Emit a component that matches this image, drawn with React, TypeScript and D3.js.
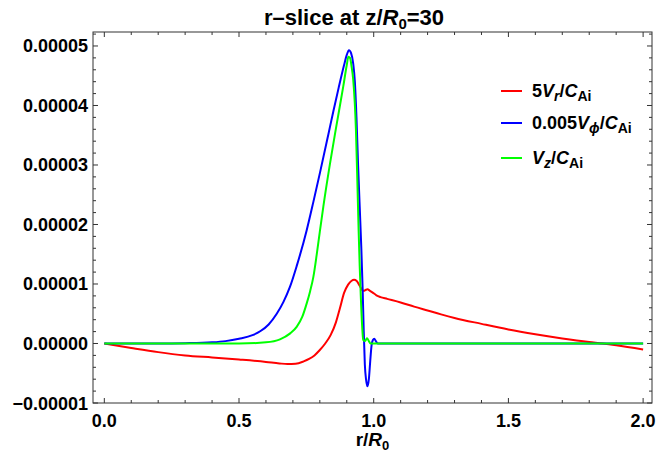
import React from "react";
import * as d3 from "d3";

// values in units of 1e-5
const vrData: [number, number][] = [
  [0, 0], [0.1, -0.075], [0.2, -0.145], [0.3, -0.2], [0.4, -0.235], [0.5, -0.27],
  [0.6, -0.31], [0.65, -0.335], [0.68, -0.345], [0.71, -0.34], [0.74, -0.3],
  [0.76, -0.26], [0.78, -0.2], [0.8, -0.11], [0.82, 0.0], [0.84, 0.14], [0.86, 0.36],
  [0.875, 0.6], [0.89, 0.85], [0.905, 0.99], [0.918, 1.055], [0.927, 1.07],
  [0.937, 1.05], [0.948, 0.97], [0.957, 0.9], [0.963, 0.885], [0.97, 0.9],
  [0.977, 0.91], [0.985, 0.89], [0.995, 0.86], [1.01, 0.81], [1.025, 0.78],
  [1.05, 0.75], [1.1, 0.69], [1.15, 0.62], [1.2, 0.555], [1.25, 0.49], [1.3, 0.43],
  [1.4, 0.33], [1.5, 0.235], [1.6, 0.155], [1.7, 0.085], [1.8, 0.025], [1.85, 0.0],
  [1.9, -0.03], [2.0, -0.1],
];

const vphiData: [number, number][] = [
  [0, 0], [0.2, 0], [0.3, 0.005], [0.4, 0.02], [0.45, 0.04], [0.5, 0.08], [0.55, 0.14],
  [0.58, 0.21], [0.61, 0.32], [0.64, 0.5], [0.665, 0.7], [0.689, 0.95], [0.714, 1.3],
  [0.751, 1.9], [0.776, 2.38], [0.801, 2.88], [0.83, 3.48], [0.85, 3.9], [0.87, 4.3],
  [0.89, 4.68], [0.9, 4.85], [0.908, 4.93], [0.916, 4.88], [0.924, 4.7], [0.93, 4.4],
  [0.936, 3.8], [0.942, 3.0], [0.948, 2.3], [0.954, 1.6], [0.959, 0.9], [0.963, 0.2],
  [0.967, -0.35], [0.972, -0.62], [0.977, -0.72], [0.982, -0.6], [0.987, -0.3],
  [0.992, -0.03], [0.997, 0.06], [1.002, 0.08], [1.008, 0.04], [1.015, 0], [2.0, 0],
];

const vzData: [number, number][] = [
  [0, 0], [0.5, 0], [0.6, 0.02], [0.652, 0.07], [0.69, 0.17], [0.714, 0.28],
  [0.735, 0.45], [0.751, 0.67], [0.764, 0.88], [0.776, 1.12], [0.788, 1.48],
  [0.8, 1.88], [0.813, 2.3], [0.838, 3.03], [0.86, 3.62], [0.887, 4.32], [0.9, 4.68],
  [0.906, 4.82], [0.912, 4.8], [0.918, 4.65], [0.924, 4.43], [0.934, 3.59],
  [0.94, 2.6], [0.944, 1.9], [0.948, 1.3], [0.952, 0.8], [0.957, 0.3], [0.961, 0.06],
  [0.968, 0.04], [0.975, 0.09], [0.982, 0.04], [0.988, 0], [2.0, 0],
];

const xTicks = [0, 0.5, 1.0, 1.5, 2.0];
const xTickLabels = ["0.0", "0.5", "1.0", "1.5", "2.0"];
const yTicks = [-1, 0, 1, 2, 3, 4, 5];
const yTickLabels = ["\u22120.00001", "0.00000", "0.00001", "0.00002", "0.00003", "0.00004", "0.00005"];

const UNIT = 1e-5;
const FONT = "'Liberation Sans', Arial, sans-serif";

export default function App() {
  const W = 658, H = 460;
  const left = 93, right = 652, top = 32, bottom = 403;
  const x = d3.scaleLinear().domain([-0.042, 2.033]).range([left, right]);
  const y = d3.scaleLinear().domain([-1e-5, 5.235e-5]).range([bottom, top]);
  const line = d3
    .line<[number, number]>()
    .x((d) => x(d[0]))
    .y((d) => y(d[1] * UNIT))
    .curve(d3.curveMonotoneX);

  const frame = "#333";
  const majorLen = 5, minorLen = 3;

  const xMinor: number[] = [];
  for (let i = -1; i <= 21; i++) {
    const v = i / 10;
    if (i % 5 !== 0 && v >= x.domain()[0] && v <= x.domain()[1]) xMinor.push(v);
  }
  const yMinor: number[] = [];
  for (let i = -5; i <= 27; i++) {
    const v = i * 2e-6;
    if (i % 5 !== 0 && v >= y.domain()[0] && v <= y.domain()[1]) yMinor.push(v);
  }

  const legend = [
    { color: "#ff0000", y: 91, key: "r" },
    { color: "#0000ff", y: 123, key: "phi" },
    { color: "#00ff00", y: 158, key: "z" },
  ];

  const sub = (t: string, italic: boolean) => (
    <tspan fontSize={14} dy={4} fontStyle={italic ? "italic" : "normal"}>{t}</tspan>
  );

  const legendText = (key: string) => {
    if (key === "r")
      return (
        <>
          <tspan>5</tspan>
          <tspan fontStyle="italic">V</tspan>
          {sub("r", true)}
          <tspan dy={-4}>/</tspan>
          <tspan fontStyle="italic">C</tspan>
          {sub("Ai", false)}
        </>
      );
    if (key === "phi")
      return (
        <>
          <tspan>0.005</tspan>
          <tspan fontStyle="italic">V</tspan>
          {sub("\u03d5", true)}
          <tspan dy={-4}>/</tspan>
          <tspan fontStyle="italic">C</tspan>
          {sub("Ai", false)}
        </>
      );
    return (
      <>
        <tspan fontStyle="italic">V</tspan>
        {sub("z", true)}
        <tspan dy={-4}>/</tspan>
        <tspan fontStyle="italic">C</tspan>
        {sub("Ai", false)}
      </>
    );
  };

  return (
    <svg
      width={W}
      height={H}
      style={{ position: "absolute", left: 0, top: 0, background: "#fff" }}
      fontFamily={FONT}
      fontWeight="bold"
    >
      <defs>
        <clipPath id="plotclip">
          <rect x={left} y={top} width={right - left} height={bottom - top} />
        </clipPath>
      </defs>
      <rect x={0} y={0} width={W} height={H} fill="#fff" />

      {/* frame */}
      <rect x={left} y={top} width={right - left} height={bottom - top} fill="none" stroke={frame} strokeWidth={1} />

      {/* x ticks */}
      {xTicks.map((t) => (
        <g key={"xt" + t}>
          <line x1={x(t)} x2={x(t)} y1={bottom} y2={bottom - majorLen} stroke={frame} />
          <line x1={x(t)} x2={x(t)} y1={top} y2={top + majorLen} stroke={frame} />
        </g>
      ))}
      {xMinor.map((t) => (
        <g key={"xm" + t}>
          <line x1={x(t)} x2={x(t)} y1={bottom} y2={bottom - minorLen} stroke={frame} />
          <line x1={x(t)} x2={x(t)} y1={top} y2={top + minorLen} stroke={frame} />
        </g>
      ))}
      {xTicks.map((t, i) => (
        <text key={"xl" + t} x={x(t)} y={427} textAnchor="middle" fontSize={18} fill="#000">
          {xTickLabels[i]}
        </text>
      ))}

      {/* y ticks */}
      {yTicks.map((t) => (
        <g key={"yt" + t}>
          <line x1={left} x2={left + majorLen} y1={y(t * UNIT)} y2={y(t * UNIT)} stroke={frame} />
          <line x1={right} x2={right - majorLen} y1={y(t * UNIT)} y2={y(t * UNIT)} stroke={frame} />
        </g>
      ))}
      {yMinor.map((t) => (
        <g key={"ym" + t}>
          <line x1={left} x2={left + minorLen} y1={y(t)} y2={y(t)} stroke={frame} />
          <line x1={right} x2={right - minorLen} y1={y(t)} y2={y(t)} stroke={frame} />
        </g>
      ))}
      {yTicks.map((t, i) => (
        <text key={"yl" + t} x={88} y={y(t * UNIT) + 6.5} textAnchor="end" fontSize={18} fill="#000">
          {yTickLabels[i]}
        </text>
      ))}

      {/* curves */}
      <g clipPath="url(#plotclip)" fill="none" strokeWidth={2} strokeLinejoin="round">
        <path d={line(vrData) || ""} stroke="#ff0000" />
        <path d={line(vphiData) || ""} stroke="#0000ff" />
        <path d={line(vzData) || ""} stroke="#00ff00" />
      </g>

      {/* legend */}
      {legend.map((l) => (
        <g key={l.key}>
          <line x1={501} x2={522} y1={l.y} y2={l.y} stroke={l.color} strokeWidth={2} />
          <text x={532} y={l.y + 6} fontSize={18} fill="#000">
            {legendText(l.key)}
          </text>
        </g>
      ))}

      {/* title */}
      <text x={354} y={25} textAnchor="middle" fontSize={22} fill="#000">
        <tspan>r–slice at z/</tspan>
        <tspan fontStyle="italic">R</tspan>
        <tspan fontSize={15} dy={4}>0</tspan>
        <tspan dy={-4}>=30</tspan>
      </text>

      {/* x label */}
      <text x={(left + right) / 2} y={446} textAnchor="middle" fontSize={19} fill="#000">
        <tspan>r/</tspan>
        <tspan fontStyle="italic">R</tspan>
        <tspan fontSize={13} dy={4}>0</tspan>
      </text>
    </svg>
  );
}
